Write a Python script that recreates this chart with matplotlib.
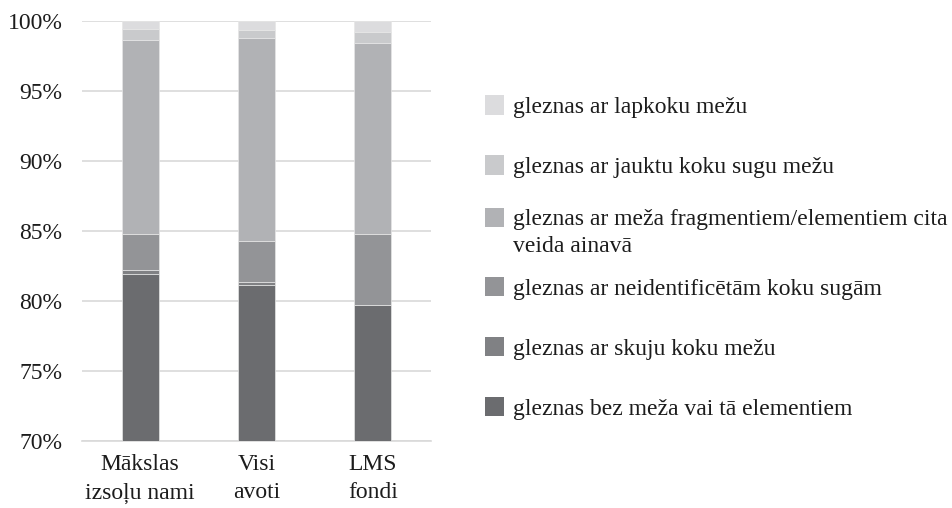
import matplotlib
matplotlib.use("Agg")
import matplotlib.pyplot as plt
from matplotlib.patches import Rectangle
import numpy as np

plt.rcParams['font.family'] = ['Liberation Serif', 'DejaVu Serif']

categories = ["Mākslas\nizsoļu nami", "Visi\navoti", "LMS\nfondi"]
series_names = [
    "gleznas bez meža vai tā elementiem",
    "gleznas ar skuju koku mežu",
    "gleznas ar neidentificētām koku sugām",
    "gleznas ar meža fragmentiem/elementiem cita\nveida ainavā",
    "gleznas ar jauktu koku sugu mežu",
    "gleznas ar lapkoku mežu",
]
bez_meza = [81.94, 81.13, 79.75]
skuju = [0.26, 0.21, 0.0]
neident = [2.57, 2.98, 5.02]
fragmenti = [13.89, 14.48, 13.63]
jauktu = [0.79, 0.58, 0.80]
lapkoku = [0.55, 0.62, 0.80]
series = [bez_meza, skuju, neident, fragmenti, jauktu, lapkoku]
colors = ["#6b6c6f", "#808184", "#939497", "#b1b2b5", "#c9cacc", "#dcdcde"]
yticks = [70, 75, 80, 85, 90, 95, 100]

FS = 17
TXT = "#1c1c1c"
fig = plt.figure(figsize=(9.52, 5.08), dpi=100)
ax = fig.add_axes([82/952, 67/508, 349/952, 420/508])

x = np.arange(len(categories))
bottom = np.zeros(len(categories))
for vals, col in zip(series, colors):
    v = np.array(vals)
    ax.bar(x, v, 0.318, bottom=bottom, color=col, edgecolor="#e6e6e6",
           linewidth=0.5, zorder=3)
    bottom += v

ax.set_xlim(-0.5, 2.5)
ax.set_ylim(70, 100)
ax.set_yticks(yticks)
ax.set_yticklabels([f"{t}%" for t in yticks])
ax.set_xticks(x)
ax.set_xticklabels(categories, linespacing=1.5)
ax.tick_params(axis='both', length=0, labelsize=FS, colors=TXT)
ax.tick_params(axis='y', pad=14)
ax.tick_params(axis='x', pad=9)
ax.grid(axis='y', color="#d9d9d9", linewidth=1.2, zorder=0)
for s in ["top", "right", "left"]:
    ax.spines[s].set_visible(False)
ax.spines["bottom"].set_color("#d9d9d9")
ax.spines["bottom"].set_linewidth(1.2)

# legend (manual), rows from top: lapkoku ... bez
row_y = [105, 165, 217.5, 286.5, 346.5, 406.5]
W, H = 952, 508
line_gap = 26
for i, idx in enumerate(range(len(series_names) - 1, -1, -1)):
    yc = row_y[i]
    fig.patches.append(Rectangle((485/W, 1 - (yc + 9.5)/H), 19/W, 19/H,
                                 transform=fig.transFigure, facecolor=colors[idx],
                                 edgecolor="none"))
    for k, line in enumerate(series_names[idx].split("\n")):
        fig.text(513/W, 1 - (yc + 8 + k*line_gap)/H, line, fontsize=FS,
                 va="baseline", ha="left", color=TXT)

fig.savefig("out.png", dpi=100)
